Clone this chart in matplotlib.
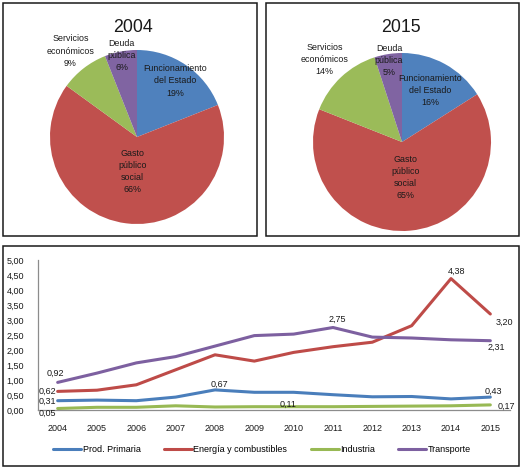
import matplotlib
matplotlib.use("Agg")
import matplotlib.pyplot as plt
from matplotlib.patches import Rectangle
import numpy as np

plt.rcParams['font.family'] = ['Liberation Sans', 'DejaVu Sans']

# ---------------- data ----------------
pie_categories = ["Funcionamiento\ndel Estado", "Gasto\npúblico\nsocial",
                  "Servicios\neconómicos", "Deuda\npública"]
pie_2004 = [19, 66, 9, 6]
pie_2015 = [16, 65, 14, 5]
pie_titles = ["2004", "2015"]

years = ["2004", "2005", "2006", "2007", "2008", "2009", "2010", "2011",
         "2012", "2013", "2014", "2015"]
prod_primaria = [0.31, 0.33, 0.31, 0.43, 0.67, 0.59, 0.59, 0.51, 0.44, 0.45, 0.37, 0.43]
energia = [0.62, 0.66, 0.84, 1.34, 1.84, 1.63, 1.92, 2.11, 2.26, 2.81, 4.38, 3.20]
industria = [0.05, 0.09, 0.09, 0.14, 0.10, 0.11, 0.11, 0.11, 0.12, 0.13, 0.14, 0.17]
transporte = [0.92, 1.23, 1.57, 1.78, 2.13, 2.48, 2.53, 2.75, 2.43, 2.40, 2.34, 2.31]
series_names = ["Prod. Primaria", "Energía y combustibles", "Industria", "Transporte"]
y_ticks = [0, 0.5, 1.0, 1.5, 2.0, 2.5, 3.0, 3.5, 4.0, 4.5, 5.0]

# ---------------- style ----------------
pie_colors = ["#4F81BD", "#C0504D", "#9BBB59", "#8064A2"]
line_colors = ["#4A7EBB", "#BE4B48", "#98B954", "#7D60A0"]
small = 6.5

W, H = 529, 471
fig = plt.figure(figsize=(W / 100, H / 100), dpi=100)

def fx(px):
    return px / W

def fy(py):
    return 1 - py / H

# panel borders
for (x0, y0, x1, y1) in [(3, 3, 257, 236), (266, 3, 519, 236), (3, 246, 519, 466)]:
    fig.patches.append(Rectangle((fx(x0), fy(y1)), fx(x1) - fx(x0), fy(y0) - fy(y1),
                                 transform=fig.transFigure, fill=False,
                                 edgecolor="#1a1a1a", linewidth=1.1))

# ---------------- pies ----------------
pie_specs = [
    (pie_2004, (137, 137), 87, (133, 27), [0.78, 0.40, 1.25, 0.95]),
    (pie_2015, (402, 142), 89, (401, 27), [0.66, 0.40, 1.27, 0.93]),
]
for (vals, (cx, cy), r, (tx, ty), dists), title in zip(pie_specs, pie_titles):
    ax = fig.add_axes([fx(cx - r), fy(cy + r), fx(2 * r), (2 * r) / H])
    ax.pie(vals, colors=pie_colors, startangle=90, counterclock=False,
           wedgeprops=dict(linewidth=0))
    ax.set_xlim(-1, 1)
    ax.set_ylim(-1, 1)
    ax.set_aspect('equal')
    total = float(sum(vals))
    cum = 0.0
    for v, cat, d in zip(vals, pie_categories, dists):
        mid = np.deg2rad(90 - (cum + v / 2) / total * 360)
        cum += v
        ax.text(d * np.cos(mid), d * np.sin(mid), f"{cat}\n{v}%",
                ha='center', va='center', fontsize=6.4, color="#1a1a1a",
                linespacing=1.45)
    fig.text(fx(tx), fy(ty), title, ha='center', va='center', fontsize=12.8,
             color="#1a1a1a")

# ---------------- line chart ----------------
lax = fig.add_axes([fx(38), fy(410), fx(510) - fx(38), 150 / H])
x = np.arange(len(years))
all_series = [prod_primaria, energia, industria, transporte]
for s, c, n in zip(all_series, line_colors, series_names):
    lax.plot(x, s, color=c, linewidth=2.2, label=n, solid_capstyle='round')
lax.set_xlim(-0.5, len(years) - 0.5)
lax.set_ylim(0, 5)
lax.set_yticks(y_ticks)
lax.set_yticklabels([f"{v:.2f}".replace('.', ',') for v in y_ticks], fontsize=small)
lax.set_xticks(x)
lax.set_xticklabels(years, fontsize=small)
lax.tick_params(axis='both', length=0, pad=10, colors="#1a1a1a")
lax.tick_params(axis='x', pad=10)
for sp in ['top', 'right']:
    lax.spines[sp].set_visible(False)
for sp in ['left', 'bottom']:
    lax.spines[sp].set_color("#8c8c8c")
    lax.spines[sp].set_linewidth(0.9)

# data labels: (series index, year index, offset px (dx, dy up))
labels = [
    (3, 0, (-2, 9)), (1, 0, (-10, 0)), (0, 0, (-10, -1)), (2, 0, (-10, -4.5)),
    (0, 4, (4, 5.5)), (2, 6, (-6, 2)), (3, 7, (4, 8.5)), (1, 10, (6, 7.5)),
    (1, 11, (14, -8)), (3, 11, (6, -7)), (0, 11, (3, 5.5)), (2, 11, (16, -1)),
]
for si, yi, (dx, dy) in labels:
    v = all_series[si][yi]
    lax.annotate(f"{v:.2f}".replace('.', ','), (x[yi], v), xytext=(dx, dy),
                 textcoords='offset pixels', ha='center', va='center',
                 fontsize=small, color="#1a1a1a")

fig.legend(*lax.get_legend_handles_labels(), loc='center',
           bbox_to_anchor=(fx(262), fy(450)), ncol=4, frameon=False,
           fontsize=small, handlelength=3.1, handletextpad=0.15, columnspacing=2.6,
           borderpad=0)

fig.savefig("out.png", dpi=100)
